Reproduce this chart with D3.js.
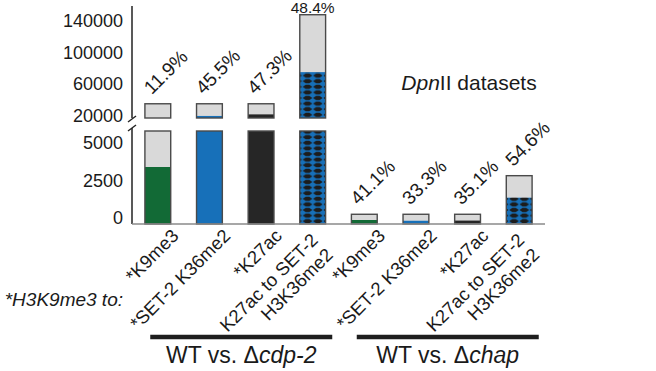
<!DOCTYPE html>
<html>
<head>
<meta charset="utf-8">
<script src="https://cdn.jsdelivr.net/npm/d3@7"></script>
<style>
  html, body { margin: 0; padding: 0; background: #fff; }
  svg text { font-family: 'Liberation Sans', Arial, sans-serif; fill: #1a1a1a; }
</style>
</head>
<body>
<div class="canvas"></div>
<script>
// podaci
const categories = [
  ['*K9me3'], ['*SET-2 K36me2'], ['*K27ac'], ['K27ac to SET-2', 'H3K36me2'],
  ['*K9me3'], ['*SET-2 K36me2'], ['*K27ac'], ['K27ac to SET-2', 'H3K36me2']
];
const marks = ['K9me3', 'K36me2', 'K27ac', 'both', 'K9me3', 'K36me2', 'K27ac', 'both'];
const totals = [42800, 42800, 42800, 156000, 650, 650, 650, 3230];
const marked = [3810, 27300, 29300, 83000, 267, 216, 228, 1760];
const percents = ['11.9%', '45.5%', '47.3%', '48.4%', '41.1%', '33.3%', '35.1%', '54.6%'];
const groups = [
  { pre: 'WT vs. Δ', it: 'cdp-2', from: 0, to: 3 },
  { pre: 'WT vs. Δ', it: 'chap', from: 4, to: 7 }
];
const upperTicks = [20000, 60000, 100000, 140000];
const lowerTicks = [0, 2500, 5000];

const colour = d3.scaleOrdinal()
  .domain(['K9me3', 'K36me2', 'K27ac', 'both'])
  .range(['#126a36', '#1770b9', '#262626', '#1770b9']);

const svg = d3.select('.canvas')
  .append('svg')
  .attr('width', 656)
  .attr('height', 371);

// skale: prekinuta os, gornji i donji dio
const axisX = 132;
const baseY = 224;
const lowTop = 131;
const upBottom = 118;

const x = d3.scaleBand()
  .domain(d3.range(categories.length))
  .range([axisX, 545])
  .paddingInner(0.5)
  .paddingOuter(0.25);

const yLow = d3.scaleLinear().domain([0, 5000]).range([baseY, 149.2]);
const yUp = d3.scaleLinear().domain([20000, 140000]).range([121.7, 27.3]);
const lowMax = yLow.invert(lowTop);
const upMin = yUp.invert(upBottom);

// uzorak za dvostruke oznake
const defs = svg.append('defs');
const w = x.bandwidth() / 2.5;
const k = w / 10.4;
marks.forEach((m, i) => {
  if (m !== 'both') return;
  const cx = x(i) + x.bandwidth() / 2;
  const p = defs.append('pattern')
    .attr('id', 'dia-' + i)
    .attr('patternUnits', 'userSpaceOnUse')
    .attr('x', cx).attr('y', 0)
    .attr('width', w).attr('height', 5.6);
  p.append('rect').attr('width', w).attr('height', 5.6).attr('fill', '#1770b9');
  p.append('polygon')
    .attr('points', `${0.4 * k},2.8 ${3.4 * k},0.7 ${7 * k},0.7 ${10 * k},2.8 ${7 * k},4.9 ${3.4 * k},4.9`)
    .attr('fill', '#1c1c1c');
});

const fillFor = (i) => marks[i] === 'both' ? `url(#dia-${i})` : colour(marks[i]);

// stupci
const bars = svg.append('g');
categories.forEach((c, i) => {
  const bx = x(i);
  const bw = x.bandwidth();
  // donji dio
  const tLow = yLow(Math.min(totals[i], lowMax));
  bars.append('rect').attr('x', bx).attr('y', tLow).attr('width', bw)
    .attr('height', baseY - tLow).attr('fill', '#d9d9d9');
  const mLow = yLow(Math.min(marked[i], lowMax));
  bars.append('rect').attr('x', bx).attr('y', mLow).attr('width', bw)
    .attr('height', baseY - mLow).attr('fill', fillFor(i));
  bars.append('rect').attr('x', bx).attr('y', tLow).attr('width', bw)
    .attr('height', baseY - tLow).attr('fill', 'none')
    .attr('stroke', '#4a4a4a').attr('stroke-width', 1.4);
  // gornji dio
  if (totals[i] > upMin) {
    const tUp = yUp(totals[i]);
    bars.append('rect').attr('x', bx).attr('y', tUp).attr('width', bw)
      .attr('height', upBottom - tUp).attr('fill', '#d9d9d9');
    if (marked[i] > upMin) {
      const mUp = yUp(marked[i]);
      bars.append('rect').attr('x', bx).attr('y', mUp).attr('width', bw)
        .attr('height', upBottom - mUp).attr('fill', fillFor(i));
    }
    bars.append('rect').attr('x', bx).attr('y', tUp).attr('width', bw)
      .attr('height', upBottom - tUp).attr('fill', 'none')
      .attr('stroke', '#4a4a4a').attr('stroke-width', 1.4);
  }
});

// postoci iznad stupaca
categories.forEach((c, i) => {
  const cx = x(i) + x.bandwidth() / 2;
  const top = totals[i] > upMin ? yUp(totals[i]) : yLow(totals[i]);
  if (top < 30) {
    // previsoko za kosi tekst
    svg.append('text').attr('x', cx).attr('y', top - 1.8)
      .attr('text-anchor', 'middle').attr('font-size', 15.5).text(percents[i]);
  } else {
    svg.append('text')
      .attr('transform', `translate(${cx - 6}, ${top - 8.5}) rotate(-45)`)
      .attr('font-size', 19).text(percents[i]);
  }
});

// osi
svg.append('line').attr('x1', axisX).attr('x2', axisX).attr('y1', 6).attr('y2', upBottom)
  .attr('stroke', '#222').attr('stroke-width', 1.5);
svg.append('line').attr('x1', axisX).attr('x2', axisX).attr('y1', 128).attr('y2', baseY)
  .attr('stroke', '#222').attr('stroke-width', 1.5);
svg.append('line').attr('x1', axisX).attr('x2', 545).attr('y1', baseY).attr('y2', baseY)
  .attr('stroke', '#8a8a8a').attr('stroke-width', 1.6);
// oznake prekida
[119, 128].forEach(y => {
  svg.append('line').attr('x1', axisX - 4).attr('x2', axisX + 4)
    .attr('y1', y + 3).attr('y2', y - 3)
    .attr('stroke', '#222').attr('stroke-width', 1.4);
});

const tickG = svg.append('g').attr('font-size', 18).attr('text-anchor', 'end');
upperTicks.forEach(t => {
  tickG.append('text').attr('x', 123).attr('y', yUp(t)).text(t);
});
lowerTicks.forEach(t => {
  tickG.append('text').attr('x', 123).attr('y', yLow(t)).text(t);
});

// kategorije
categories.forEach((lines, i) => {
  const cx = x(i) + x.bandwidth() / 2;
  const g = svg.append('text')
    .attr('transform', `translate(${cx + 22}, 237) rotate(-45)`)
    .attr('text-anchor', 'end').attr('font-size', 18.5);
  lines.forEach((l, j) => {
    const multi = lines.length > 1;
    g.append('tspan')
      .attr('x', multi ? -14 : 0)
      .attr('y', multi ? -8 + j * 21 : 0)
      .text(l);
  });
});

svg.append('text').attr('x', 123).attr('y', 306)
  .attr('text-anchor', 'end').attr('font-size', 19).attr('font-style', 'italic')
  .text('*H3K9me3 to:');

// grupe
groups.forEach(gr => {
  const c = (x(gr.from) + x(gr.to) + x.bandwidth()) / 2 + 6;
  svg.append('line').attr('x1', c - 91).attr('x2', c + 91).attr('y1', 337).attr('y2', 337)
    .attr('stroke', '#1e1e1e').attr('stroke-width', 4.5);
  const t = svg.append('text').attr('x', c).attr('y', 363)
    .attr('text-anchor', 'middle').attr('font-size', 23);
  t.append('tspan').text(gr.pre);
  t.append('tspan').attr('font-style', 'italic').text(gr.it);
});

// naslov
const title = svg.append('text').attr('x', 469).attr('y', 90)
  .attr('text-anchor', 'middle').attr('font-size', 21);
title.append('tspan').attr('font-style', 'italic').text('Dpn');
title.append('tspan').text('II datasets');
</script>
</body>
</html>
